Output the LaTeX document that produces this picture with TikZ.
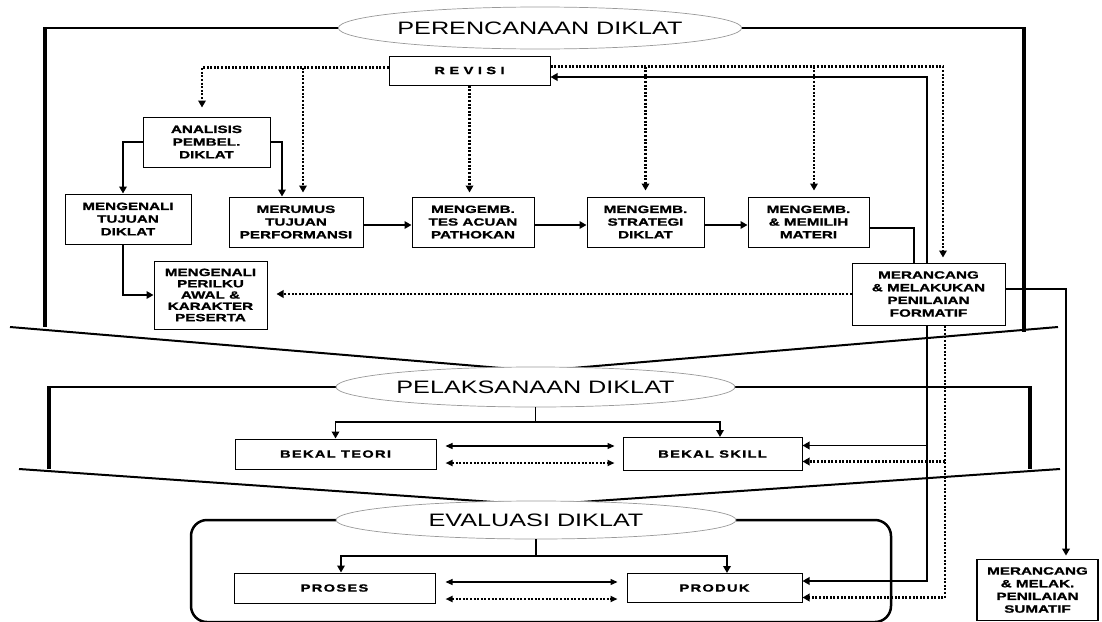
\documentclass[tikz,border=0pt]{standalone}
\usepackage{fontspec}
\setmainfont{Liberation Sans}
\newfontfamily\ellfont[FakeStretch=1.4]{Liberation Sans}
\newfontfamily\boxfont[FakeStretch=1.45,FakeBold=1.3]{Liberation Sans}
\newfontfamily\spacedfont[FakeStretch=1.4,FakeBold=1.3,LetterSpace=12]{Liberation Sans}
\newfontfamily\revfont[FakeStretch=1.4,FakeBold=1.3,LetterSpace=42]{Liberation Sans}
\usetikzlibrary{shapes.geometric,arrows.meta}

\tikzset{
  stage/.style={ellipse,draw=gray!80,line width=0.7pt,fill=white,inner sep=0pt,
    font=\ellfont\fontsize{18}{18}\selectfont},
  box/.style={draw,line width=1pt,fill=white,inner sep=0pt,align=center,
    font=\boxfont\bfseries\fontsize{10.5}{12.7}\selectfont},
  wbox/.style={box,font=\spacedfont\bfseries\fontsize{10.5}{12.7}\selectfont},
  flow/.style={line width=1.9pt,-{Triangle[length=7pt,width=7.5pt]}},
  link/.style={line width=1.9pt},
  dots/.style={line width=2.2pt,dash pattern=on 2pt off 1.6pt},
  dotflow/.style={dots,-{Triangle[length=7pt,width=7.5pt]}},
  both/.style={line width=1.2pt,{Triangle[length=7pt,width=6pt]}-{Triangle[length=7pt,width=6pt]}},
  dotboth/.style={dots,line width=1.8pt,{Triangle[length=7pt,width=6pt]}-{Triangle[length=7pt,width=6pt]}},
  frameh/.style={line width=2pt},
  framev/.style={line width=3.5pt},
}

\begin{document}
\begin{tikzpicture}[x=1pt,y=-1pt]
  \useasboundingbox (0,0) rectangle (1102,621);

  % frames of the three stages
  \draw[frameh] (341,28) -- (45,28);
  \draw[framev] (45,27) -- (45,327);
  \draw[frameh] (739,28) -- (1024,28);
  \draw[framev] (1024,27) -- (1024,332);
  \draw[frameh] (10,327) -- (537,371) -- (1058,327);

  \draw[frameh] (336,387) -- (49,387);
  \draw[framev] (49,386) -- (49,469);
  \draw[frameh] (735,387) -- (1030,387);
  \draw[framev] (1030,386) -- (1030,469);
  \draw[frameh] (19,469) -- (537,505) -- (1060,469);

  \draw[line width=2.5pt,rounded corners=16pt] (336,520) -- (191,520) -- (191,622)
    -- (891,622) -- (891,520) -- (736,520);

  \node[stage,minimum width=397pt,minimum height=42pt] (plan) at (540,28) {PERENCANAAN DIKLAT};
  \node[stage,minimum width=399pt,minimum height=40pt] (pelaks) at (535.5,387) {PELAKSANAAN DIKLAT};
  \node[stage,minimum width=400pt,minimum height=38pt] (eval) at (536,520) {EVALUASI DIKLAT};

  % planning
  \node[box,minimum width=161pt,minimum height=29pt,
    font=\revfont\bfseries\fontsize{10.5}{12.7}\selectfont] (revisi) at (469.5,70.5) {REVISI};
  \node[box,minimum width=127pt,minimum height=50pt] (analisis) at (206.5,142) {ANALISIS\\PEMBEL.\\DIKLAT};
  \node[box,minimum width=126pt,minimum height=50pt] (tujuan) at (128,219) {MENGENALI\\TUJUAN\\DIKLAT};
  \node[box,minimum width=134pt,minimum height=50pt] (merumus) at (296,222) {MERUMUS\\TUJUAN\\PERFORMANSI};
  \node[box,minimum width=122pt,minimum height=50pt] (tes) at (473,222) {MENGEMB.\\TES ACUAN\\PATHOKAN};
  \node[box,minimum width=117pt,minimum height=50pt] (strategi) at (645.5,222) {MENGEMB.\\STRATEGI\\DIKLAT};
  \node[box,minimum width=121pt,minimum height=50pt] (materi) at (808.5,222) {MENGEMB.\\\& MEMILIH\\MATERI};
  \node[box,minimum width=113pt,minimum height=68pt,
    font=\boxfont\bfseries\fontsize{10.5}{11.3}\selectfont] (perilaku) at (210.5,295)
    {MENGENALI\\PERILKU\\AWAL \&\\KARAKTER\\PESERTA};
  \node[box,minimum width=153pt,minimum height=62pt] (formatif) at (928.5,294)
    {MERANCANG\\\& MELAKUKAN\\PENILAIAN\\FORMATIF};

  % implementation and evaluation
  \node[wbox,minimum width=201pt,minimum height=30pt] (teori) at (335.5,454) {BEKAL TEORI};
  \node[wbox,minimum width=179pt,minimum height=33pt] (skill) at (712.5,454) {BEKAL SKILL};
  \node[wbox,minimum width=201pt,minimum height=30pt] (proses) at (334.5,588) {PROSES};
  \node[wbox,minimum width=175pt,minimum height=29pt] (produk) at (714.5,588) {PRODUK};
  \node[box,line width=1.8pt,minimum width=121pt,minimum height=61pt] (sumatif) at (1037.5,590)
    {MERANCANG\\\& MELAK.\\PENILAIAN\\SUMATIF};

  \coordinate (rvL) at ([yshift=3pt]revisi.west);
  \coordinate (rvR) at ([yshift=4pt]revisi.east);
  \coordinate (mR) at ([xshift=7pt]merumus.north);
  \coordinate (mtR) at ([xshift=5.5pt]materi.north);
  \coordinate (fS) at ([xshift=-1.5pt]formatif.south);
  \coordinate (fD) at ([xshift=16.5pt]formatif.south);
  \coordinate (skT) at ([yshift=8.5pt]skill.east);
  \coordinate (skD) at ([yshift=-7.5pt]skill.east);
  \coordinate (tA) at ([yshift=8pt]teori.east);
  \coordinate (tB) at ([yshift=-9pt]teori.east);
  \coordinate (pA) at ([yshift=6pt]proses.east);
  \coordinate (pB) at ([yshift=-11pt]proses.east);

  % revision loop
  \draw[dotflow,shorten >=9pt] (rvL) -| ([xshift=-4.5pt]analisis.north);
  \draw[dotflow,shorten >=4pt] (rvL -| mR) -- (mR);
  \draw[dotflow,shorten >=4pt] (revisi.south) -- (revisi.south |- tes.north);
  \draw[dotflow,shorten >=5pt] (rvR) -| ([xshift=14.5pt]formatif.north);
  \draw[dotflow,shorten >=6pt] (rvR -| strategi.north) -- (strategi.north);
  \draw[dotflow,shorten >=6pt] (rvR -| mtR) -- (mtR);
  \draw[flow] ([xshift=-1.5pt]formatif.north) |- ([yshift=-6.5pt]revisi.east);

  % design chain
  \draw[flow] (analisis.west) -| ([xshift=-5pt]tujuan.north);
  \draw[flow] (analisis.east) -| ([xshift=-14pt]merumus.north);
  \draw[flow] ([xshift=-5pt]tujuan.south) |- (perilaku.west);
  \draw[flow] ([yshift=-3pt]merumus.east) -- ([yshift=-3pt]tes.west);
  \draw[flow] ([yshift=-3pt]tes.east) -- ([yshift=-3pt]strategi.west);
  \draw[flow] ([yshift=-3pt]strategi.east) -- ([yshift=-3pt]materi.west);
  \draw[link] ([yshift=-6pt]materi.east) -| ([xshift=-14.5pt]formatif.north);
  \draw[dotflow,shorten >=9pt] (formatif.west) -- (formatif.west -| perilaku.east);
  \draw[flow,shorten >=3pt] ([yshift=5pt]formatif.east) -| ([xshift=28.5pt]sumatif.north);

  % stage trees
  \draw[flow] (pelaks.south) -- ++(0,15) -| (teori.north);
  \draw[flow] (pelaks.south) -- ++(0,15) -| ([xshift=7.5pt]skill.north);
  \draw[flow] (eval.south) -- ++(0,17) -| ([xshift=6.5pt]proses.north);
  \draw[flow] (eval.south) -- ++(0,17) -| ([xshift=12.5pt]produk.north);

  \draw[both,shorten <=9pt,shorten >=8pt] (tA) -- (tA -| skill.west);
  \draw[dotboth,shorten <=9pt,shorten >=8pt] (tB) -- (tB -| skill.west);
  \draw[both,shorten <=10pt,shorten >=9pt] (pA) -- (pA -| produk.west);
  \draw[dotboth,shorten <=10pt,shorten >=9pt] (pB) -- (pB -| produk.west);

  % formative feedback
  \draw[flow] (fS) |- ([yshift=7pt]produk.east);
  \draw[flow] (fS |- skT) -- (skT);
  \draw[dotflow] (fD) |- ([yshift=-9.5pt]produk.east);
  \draw[dotflow] (fD |- skD) -- (skD);
\end{tikzpicture}
\end{document}
